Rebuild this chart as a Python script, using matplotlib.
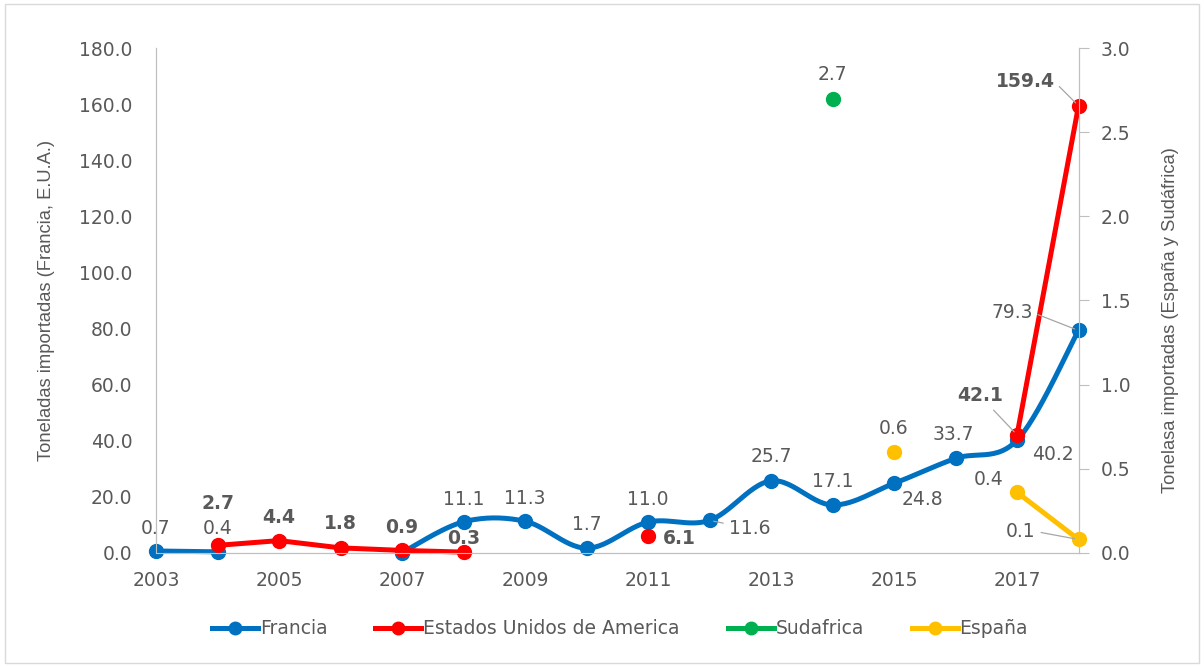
import numpy as np
import matplotlib
matplotlib.use("Agg")
from matplotlib import pyplot as plt
from matplotlib.lines import Line2D
from matplotlib.patches import Rectangle

years = list(range(2003, 2019))
francia = [0.7, 0.4, None, None, 0.1, 11.1, 11.3, 1.7, 11.0, 11.6, 25.7, 17.1, 24.8, 33.7, 40.2, 79.3]
eeuu = [None, 2.7, 4.4, 1.8, 0.9, 0.3, None, None, 6.1, None, None, None, None, None, 42.1, 159.4]
sudafrica = [None] * 11 + [2.7] + [None] * 4
espana = [None] * 12 + [0.6, None, 0.36, 0.08]

BLUE = "#0070C0"
RED = "#FF0000"
GREEN = "#00B050"
YELLOW = "#FFC000"
TXT = "#595959"
AXC = "#BFBFBF"
LEAD = "#A6A6A6"

NUMFONT = ["DejaVu Sans"]
TITLEFONT = ["Liberation Sans Narrow", "Liberation Sans", "DejaVu Sans"]
FS = 13.5


def runs(xs, ys):
    """split series into runs of consecutive non-missing values"""
    out, cur = [], []
    for x, y in zip(xs, ys):
        if y is None:
            if cur:
                out.append(cur)
            cur = []
        else:
            cur.append((x, y))
    if cur:
        out.append(cur)
    return out


def smooth(pts, n=30):
    # catmull-rom through the points (roughly what excel does for smoothed lines)
    if len(pts) < 3:
        return [p[0] for p in pts], [p[1] for p in pts]
    p = np.array(pts, dtype=float)
    p = np.vstack([p[0], p, p[-1]])
    xs, ys = [], []
    for i in range(1, len(p) - 2):
        p0, p1, p2, p3 = p[i - 1], p[i], p[i + 1], p[i + 2]
        c1 = p1 + (p2 - p0) / 6
        c2 = p2 - (p3 - p1) / 6
        t = np.linspace(0, 1, n)[:, None]
        b = (1 - t) ** 3 * p1 + 3 * (1 - t) ** 2 * t * c1 + 3 * (1 - t) * t ** 2 * c2 + t ** 3 * p2
        xs.extend(b[:, 0])
        ys.extend(b[:, 1])
    return xs, ys


fig = plt.figure(figsize=(12.04, 6.67), dpi=100)
fig.patches.append(Rectangle((0.004, 0.006), 0.992, 0.988, transform=fig.transFigure,
                             fill=False, edgecolor="#D9D9D9", lw=1.0))
ax = fig.add_axes([0.1296, 0.171, 0.7662, 0.757])
ax2 = ax.twinx()

# Francia (smoothed)
for r in runs(years, francia):
    sx, sy = smooth(r)
    ax.plot(sx, sy, color=BLUE, lw=3.6, solid_capstyle="round", zorder=2, clip_on=False)
    ax.plot([q[0] for q in r], [q[1] for q in r], "o", color=BLUE, ms=10, zorder=3, clip_on=False)

# EEUU
for r in runs(years, eeuu):
    ax.plot([q[0] for q in r], [q[1] for q in r], "-o", color=RED, lw=3.6, ms=10, zorder=4,
            clip_on=False)

# right axis series
for r in runs(years, sudafrica):
    ax2.plot([q[0] for q in r], [q[1] for q in r], "-o", color=GREEN, lw=3.6, ms=10, clip_on=False)
for r in runs(years, espana):
    ax2.plot([q[0] for q in r], [q[1] for q in r], "-o", color=YELLOW, lw=3.6, ms=10, clip_on=False)

ax.set_xlim(2003, 2018)
ax.set_ylim(0, 180)
ax2.set_ylim(0, 3)
ax.set_xticks(range(2003, 2018, 2))
ax.set_yticks(np.arange(0, 181, 20))
ax.set_yticklabels(["%.1f" % v for v in np.arange(0, 181, 20)])
ax2.set_yticks(np.arange(0, 3.01, 0.5))
ax2.set_yticklabels(["%.1f" % v for v in np.arange(0, 3.01, 0.5)])

for a in (ax, ax2):
    for s in a.spines.values():
        s.set_color(AXC)
    a.spines["top"].set_visible(False)
ax.tick_params(axis="x", length=0, pad=13, labelsize=FS, labelcolor=TXT)
ax.tick_params(axis="y", length=0, pad=17, labelsize=FS, labelcolor=TXT)
ax2.tick_params(axis="y", length=7, color=AXC, pad=9, labelsize=FS, labelcolor=TXT)
for lbl in ax.get_xticklabels() + ax.get_yticklabels() + ax2.get_yticklabels():
    lbl.set_family(NUMFONT)

ax.set_ylabel("Toneladas importadas (Francia, E.U.A.)", family=TITLEFONT, fontsize=13.2,
              color=TXT)
ax.yaxis.set_label_coords(-0.110, 0.5)
ax2.set_ylabel("Tonelasa importadas (España y Sudáfrica)", family=TITLEFONT, fontsize=13.2,
               color=TXT, rotation=90)
ax2.yaxis.set_label_coords(1.090, 0.461)


def lab(a, x, y, txt, dx, dy, bold=False, leader=False, ha="center"):
    kw = dict(xy=(x, y), xytext=(dx, -dy), textcoords="offset pixels", ha=ha, va="center",
              fontsize=FS, color=TXT, family=NUMFONT,
              fontweight="bold" if bold else "normal", zorder=6)
    if leader:
        kw["arrowprops"] = dict(arrowstyle="-", color=LEAD, lw=0.9, shrinkA=2, shrinkB=3,
                                relpos=(1, 0.5) if ha == "right" else (0.5, 0.5))
    a.annotate(txt, **kw)


fr_off = {2003: (0, -22), 2004: (0, -23), 2008: (0, -22), 2009: (0, -23), 2010: (0, -24),
          2011: (0, -23), 2012: (40, 8), 2013: (0, -24), 2014: (0, -23), 2015: (28, 16),
          2016: (-2, -24), 2017: (36, 14)}
for x, v in zip(years, francia):
    if x in fr_off:
        dx, dy = fr_off[x]
        lab(ax, x, v, "%.1f" % v, dx, dy, leader=(x == 2012))
lab(ax, 2018, francia[-1], "%.1f" % francia[-1], -46, -18, leader=True, ha="right")

us_off = {2004: (0, -42), 2005: (0, -23), 2006: (0, -24), 2007: (0, -23), 2008: (0, -14),
          2011: (31, 3)}
for x, v in zip(years, eeuu):
    if x in us_off:
        dx, dy = us_off[x]
        lab(ax, x, v, "%.1f" % v, dx, dy, bold=True)
lab(ax, 2017, eeuu[-2], "%.1f" % eeuu[-2], -37, -39, bold=True, leader=True)
lab(ax, 2018, eeuu[-1], "%.1f" % eeuu[-1], -24, -24, bold=True, leader=True, ha="right")

lab(ax2, 2014, sudafrica[11], "%.1f" % sudafrica[11], 0, -24)
lab(ax2, 2015, espana[12], "%.1f" % espana[12], 0, -23)
lab(ax2, 2017, espana[14], "%.1f" % espana[14], -28, -13)
lab(ax2, 2018, espana[15], "%.1f" % espana[15], -43, -8, leader=True, ha="right")

handles = [Line2D([], [], color=c, lw=3.6, marker="o", ms=9) for c in (BLUE, RED, GREEN, YELLOW)]
names = ["Francia", "Estados Unidos de America", "Sudafrica", "España"]
fig.legend(handles, names, loc="center", bbox_to_anchor=(0.515, 0.057), ncol=4, frameon=False,
           prop={"family": NUMFONT, "size": FS}, labelcolor=TXT, handlelength=2.45,
           handletextpad=0.1, columnspacing=2.55)

fig.savefig("out.png", dpi=100)
